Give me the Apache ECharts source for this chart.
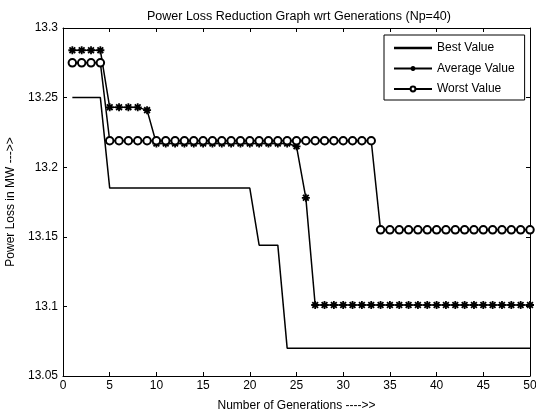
<!DOCTYPE html>
<html>
<head>
<meta charset="utf-8">
<script src="https://cdn.jsdelivr.net/npm/echarts@6/dist/echarts.min.js"></script>
<style>html,body{margin:0;padding:0;background:#fff}#c{width:536px;height:418px}</style>
</head>
<body>
<div id="c"></div>
<script>
var generations = [1,2,3,4,5,6,7,8,9,10,11,12,13,14,15,16,17,18,19,20,21,22,23,24,25,26,27,28,29,30,31,32,33,34,35,36,37,38,39,40,41,42,43,44,45,46,47,48,49,50];
var bestValue = [13.25,13.25,13.25,13.25,
  13.185,13.185,13.185,13.185,13.185,13.185,13.185,13.185,13.185,13.185,13.185,13.185,13.185,13.185,13.185,13.185,
  13.144,13.144,13.144,
  13.07,13.07,13.07,13.07,13.07,13.07,13.07,13.07,13.07,13.07,13.07,13.07,13.07,13.07,13.07,13.07,13.07,13.07,13.07,13.07,13.07,13.07,13.07,13.07,13.07,13.07,13.07];
var averageValue = [13.284,13.284,13.284,13.284,
  13.243,13.243,13.243,13.243,13.241,
  13.217,13.217,13.217,13.217,13.217,13.217,13.217,13.217,13.217,13.217,13.217,13.217,13.217,13.217,13.217,
  13.215,13.178,
  13.101,13.101,13.101,13.101,13.101,13.101,13.101,13.101,13.101,13.101,13.101,13.101,13.101,13.101,13.101,13.101,13.101,13.101,13.101,13.101,13.101,13.101,13.101,13.101];
var worstValue = [13.275,13.275,13.275,13.275,
  13.219,13.219,13.219,13.219,13.219,13.219,13.219,13.219,13.219,13.219,13.219,13.219,13.219,13.219,13.219,13.219,13.219,13.219,13.219,13.219,13.219,13.219,13.219,13.219,13.219,13.219,13.219,13.219,13.219,
  13.155,13.155,13.155,13.155,13.155,13.155,13.155,13.155,13.155,13.155,13.155,13.155,13.155,13.155,13.155,13.155,13.155];
var seriesNames = ['Best Value','Average Value','Worst Value'];
var titleText = 'Power Loss Reduction Graph wrt Generations (Np=40)';
var xName = 'Number of Generations ---->>';
var yName = 'Power Loss in MW --->>';

function pairs(ys){ return generations.map(function(g,i){ return [g, ys[i]]; }); }

var FONT = 'Liberation Sans, Arial, sans-serif';
var chart = echarts.init(document.getElementById('c'), null, {renderer:'canvas'});
var axisCommon = {
  axisLine:{show:true, onZero:false, lineStyle:{color:'#000', width:1}},
  axisTick:{show:true, inside:true, length:4, lineStyle:{color:'#000', width:1}},
  splitLine:{show:false}
};
var asterisk = 'path://M0,-5L0,5M-5,0L5,0M-3.6,-3.6L3.6,3.6M-3.6,3.6L3.6,-3.6';
chart.setOption({
  animation:false,
  backgroundColor:'#fff',
  title:{text:titleText, left:294, textAlign:'center', top:5,
    textStyle:{fontFamily:FONT, fontSize:12.5, fontWeight:'normal', color:'#000'}},
  grid:{left:63, right:6, top:28, bottom:42, containLabel:false, outerBoundsMode:'none'},
  legend:{
    orient:'vertical', left:384, top:35,
    data:[{name:seriesNames[0], icon:'path://M0,0L40,0L40,2.4L0,2.4Z'},
          {name:seriesNames[1], itemStyle:{borderColor:'#000', borderWidth:1.5}},
          {name:seriesNames[2]}],
    itemWidth:38, itemHeight:6, itemGap:8.5,
    padding:[7,10,5,9],
    backgroundColor:'#fff', borderColor:'#000', borderWidth:1,
    textStyle:{fontFamily:FONT, fontSize:12, color:'#000'}
  },
  xAxis:[
    Object.assign({type:'value', min:0, max:50, interval:5, position:'bottom',
      name:xName, nameLocation:'middle', nameGap:24,
      nameTextStyle:{fontFamily:FONT, fontSize:12, color:'#000'},
      axisLabel:{fontFamily:FONT, fontSize:12, color:'#000', margin:4}}, axisCommon),
    Object.assign({type:'value', min:0, max:50, interval:5, position:'top',
      axisLabel:{show:false}}, axisCommon)
  ],
  yAxis:[
    Object.assign({type:'value', min:13.05, max:13.3, interval:0.05, position:'left',
      name:yName, nameLocation:'middle', nameGap:42,
      nameTextStyle:{fontFamily:FONT, fontSize:12, color:'#000'},
      axisLabel:{fontFamily:FONT, fontSize:12, color:'#000', margin:5,
        formatter:function(v){ return String(parseFloat(v.toFixed(2))); }}}, axisCommon),
    Object.assign({type:'value', min:13.05, max:13.3, interval:0.05, position:'right',
      axisLabel:{show:false}}, axisCommon)
  ],
  series:[
    {name:seriesNames[0], type:'line', data:pairs(bestValue), symbol:'none',
      lineStyle:{color:'#000', width:1.5}, itemStyle:{color:'#000'}},
    {name:seriesNames[1], type:'line', data:pairs(averageValue), symbol:asterisk, symbolSize:8, showAllSymbol:true,
      lineStyle:{color:'#000', width:1.5}, itemStyle:{color:'#000', borderColor:'#000', borderWidth:1.8}},
    {name:seriesNames[2], type:'line', data:pairs(worstValue), symbol:'emptyCircle', symbolSize:7.5, showAllSymbol:true,
      lineStyle:{color:'#000', width:1.5}, itemStyle:{color:'#000', borderColor:'#000', borderWidth:1.5}}
  ]
});
</script>
</body>
</html>
